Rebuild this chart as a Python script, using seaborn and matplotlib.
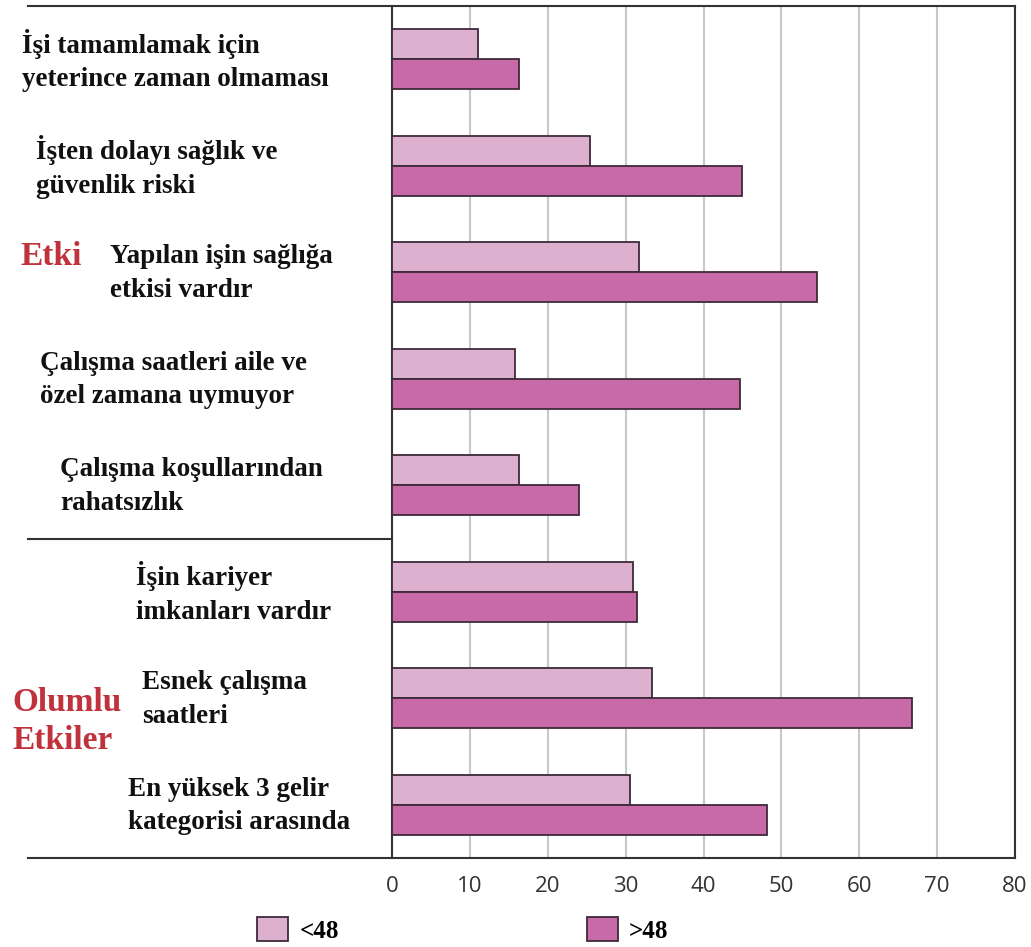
import matplotlib
matplotlib.use("Agg")
import matplotlib.pyplot as plt
import seaborn as sns
import pandas as pd

categories = [
    "İşi tamamlamak için\nyeterince zaman olmaması",
    "İşten dolayı sağlık ve\ngüvenlik riski",
    "Yapılan işin sağlığa\netkisi vardır",
    "Çalışma saatleri aile ve\nözel zamana uymuyor",
    "Çalışma koşullarından\nrahatsızlık",
    "İşin kariyer\nimkanları vardır",
    "Esnek çalışma\nsaatleri",
    "En yüksek 3 gelir\nkategorisi arasında",
]
under48 = [11.0, 25.4, 31.7, 15.8, 16.3, 30.9, 33.4, 30.6]
over48 = [16.3, 44.9, 54.6, 44.7, 24.0, 31.4, 66.8, 48.1]
series = ["<48", ">48"]
xticks = [0, 10, 20, 30, 40, 50, 60, 70, 80]
group_labels = ["Etki", "Olumlu\nEtkiler"]

df = pd.DataFrame({
    "cat": categories * 2,
    "val": under48 + over48,
    "grp": [series[0]] * len(categories) + [series[1]] * len(categories),
})

W, H = 1031, 947
fig = plt.figure(figsize=(W / 100, H / 100), dpi=100)
ax = fig.add_axes([392 / W, 1 - 858 / H, (1015 - 392) / W, (858 - 6) / H])

palette = {series[0]: "#ddb0d0", series[1]: "#c86aa8"}
sns.barplot(data=df, y="cat", x="val", hue="grp", order=categories,
            hue_order=series, palette=palette, orient="h", width=0.56,
            gap=0, edgecolor="#3d2a38", linewidth=1.3, saturation=1,
            ax=ax, legend=False, zorder=3)

ax.set_xlim(0, 80)
ax.set_ylim(len(categories) - 0.5, -0.5)
ax.set_xticks(xticks)
ax.set_xticklabels([str(t) for t in xticks], fontsize=16, color="#333333",
                   family=["Open Sans", "DejaVu Sans"])
ax.tick_params(axis="x", length=0, pad=13)
ax.tick_params(axis="y", length=0, labelleft=False)
ax.set_xlabel("")
ax.set_ylabel("")
ax.grid(axis="x", color="#c8c8c8", linewidth=1.5, zorder=0)
ax.set_axisbelow(True)
for s in ["left", "right", "top", "bottom"]:
    ax.spines[s].set_color("#333333")
    ax.spines[s].set_linewidth(1.5)

# extended frame lines to the left
ytr = ax.get_yaxis_transform()
x_left = (28 - 392) / (1015 - 392)
for yv in [-0.5, len(categories) - 0.5, 4.5]:
    ax.plot([x_left, 0], [yv, yv], transform=ytr, color="#333333",
            linewidth=1.5, clip_on=False, zorder=5)

# category labels
label_x = [22, 36, 110, 40, 60, 136, 142, 128]
serif = ["Liberation Serif", "DejaVu Serif"]
for i, (lab, lx) in enumerate(zip(categories, label_x)):
    ax.text((lx - 392) / (1015 - 392), i + 0.01, lab, transform=ytr,
            ha="left", va="center", fontsize=19.5, fontweight="bold",
            family=serif, color="#111111", linespacing=1.45)

# group labels
ax.text((20 - 392) / (1015 - 392), 1.85, group_labels[0], transform=ytr,
        ha="left", va="center", fontsize=24, fontweight="bold",
        family=serif, color="#c0323c")
ax.text((12 - 392) / (1015 - 392), 6.22, group_labels[1], transform=ytr,
        ha="left", va="center", fontsize=24, fontweight="bold",
        family=serif, color="#c0323c", linespacing=1.3)

# legend
from matplotlib.patches import Patch
handles = [Patch(facecolor=palette[s], edgecolor="#3d2a38", linewidth=1.3)
           for s in series]
fig.legend(handles, series, ncol=2, loc="center left",
           bbox_to_anchor=(257 / W, 1 - 930 / H), frameon=False,
           prop={"family": serif, "weight": "bold", "size": 18},
           handlelength=1.25, handleheight=1.1, handletextpad=0.45,
           columnspacing=9.9, borderaxespad=0, borderpad=0)

fig.savefig("out.png", dpi=100, facecolor="white")
